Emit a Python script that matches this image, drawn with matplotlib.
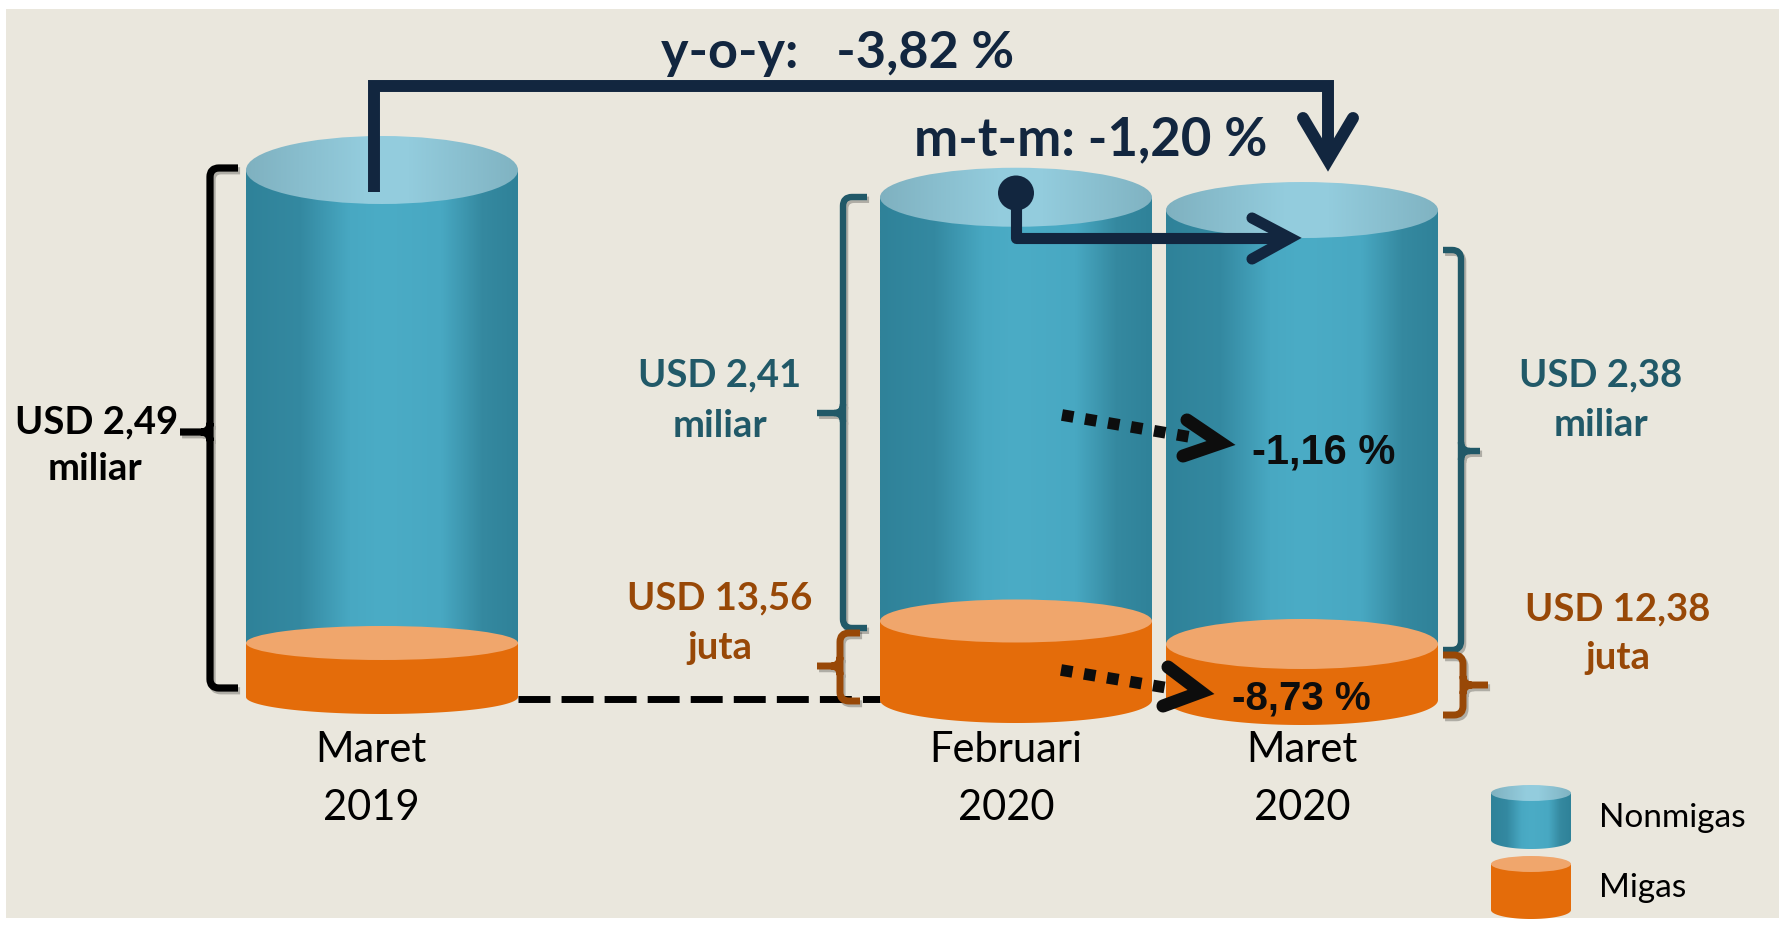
import numpy as np
import matplotlib
matplotlib.use('Agg')
import matplotlib.pyplot as plt
from matplotlib.patches import Ellipse, PathPatch, Rectangle
from matplotlib.path import Path
from matplotlib.colors import LinearSegmentedColormap
import matplotlib.patheffects as pe

# ---------------- data ----------------
periods = ['Maret', 'Februari', 'Maret']
years = ['2019', '2020', '2020']
total_2019_miliar = 2.49
nonmigas_miliar = [2.41, 2.38]        # Feb 2020, Mar 2020
migas_juta = [13.56, 12.38]           # Feb 2020, Mar 2020
yoy_pct = -3.82
mtm_pct = -1.20
nonmigas_mtm_pct = -1.16
migas_mtm_pct = -8.73
legend_labels = ['Nonmigas', 'Migas']

totals = [total_2019_miliar,
          nonmigas_miliar[0] + migas_juta[0] / 1000,
          nonmigas_miliar[1] + migas_juta[1] / 1000]


def fmt(v):
    return f"{v:.2f}".replace('.', ',')


# ---------------- style / layout ----------------
W, H = 1785, 927
BG = '#EAE7DD'
NAVY = '#12263F'
TEAL = '#215968'
BROWN = '#984807'
ORANGE = '#E46C0A'
ORANGE_TOP = '#F0A66C'
BLACK = '#0D0D0D'

# value -> pixel mapping for cylinder tops
REF_V, REF_PX, PX_PER_UNIT = 2.49, 170, 410

cyl_cx = [382, 1016, 1302]
RX = 136
top_ry = [34, 29.5, 28]
bottom_px = [697, 700, 700]
migas_band = [54, 79, 56]
mid_ry = [17, 21.5, 25]
bot_ry = [17, 23, 25]

side_cmap = LinearSegmentedColormap.from_list('side', [
    (0.0, '#2F8299'), (0.2, '#3489A1'), (0.38, '#48A8C2'), (0.5, '#4BACC6'),
    (0.72, '#48A8C2'), (0.87, '#3589A0'), (1.0, '#2F8299')])
top_cmap = LinearSegmentedColormap.from_list('top', [
    (0.0, '#7FB1C0'), (0.45, '#94CDDE'), (0.6, '#93CCDD'), (1.0, '#80B3C2')])

fig = plt.figure(figsize=(W / 100, H / 100), dpi=100)
fig.patch.set_facecolor('white')
ax = fig.add_axes([0, 0, 1, 1])
ax.set_xlim(0, W)
ax.set_ylim(H, 0)
ax.set_autoscale_on(False)
ax.axis('off')

ax.add_patch(Rectangle((6, 9), W - 12, H - 18, facecolor=BG, edgecolor='none', zorder=0))


def grad_fill(patch, x0, x1, y0, y1, cmap, z):
    patch.set_facecolor('none')
    patch.set_edgecolor('none')
    ax.add_patch(patch)
    g = np.linspace(0, 1, 256)[None, :]
    im = ax.imshow(g, cmap=cmap, extent=(x0, x1, y1, y0), aspect='auto',
                   interpolation='bilinear', zorder=z)
    im.set_clip_path(patch)


def half_ellipse_pts(cx, rx, yc, ry, n=80):
    t = np.linspace(0, np.pi, n)
    return np.column_stack([cx - rx * np.cos(t), yc + ry * np.sin(t)])


def side_patch(cx, rx, y_top, y_bot, ry_bot):
    pts = [(cx - rx, y_top)]
    pts += list(map(tuple, half_ellipse_pts(cx, rx, y_bot, ry_bot)))
    pts += [(cx + rx, y_top), (cx - rx, y_top)]
    return PathPatch(Path(pts, closed=True))


def blue_part(cx, rx, y_top, y_bot, ry_top, ry_bot, z):
    grad_fill(side_patch(cx, rx, y_top, y_bot, ry_bot), cx - rx, cx + rx,
              y_top - 1, y_bot + ry_bot + 1, side_cmap, z)
    grad_fill(Ellipse((cx, y_top), 2 * rx, 2 * ry_top), cx - rx, cx + rx,
              y_top - ry_top - 1, y_top + ry_top + 1, top_cmap, z + 0.3)


def orange_part(cx, rx, y_top, y_bot, ry_top, ry_bot, z):
    p = side_patch(cx, rx, y_top, y_bot, ry_bot)
    p.set_facecolor(ORANGE)
    p.set_edgecolor('none')
    p.set_zorder(z + 0.1)
    ax.add_patch(p)
    ax.add_patch(Ellipse((cx, y_top), 2 * rx, 2 * ry_top, facecolor=ORANGE_TOP,
                         edgecolor='none', zorder=z + 0.2))


for i in range(3):
    y_top = REF_PX + (REF_V - totals[i]) * PX_PER_UNIT
    y_bot = bottom_px[i]
    y_mid = y_bot - migas_band[i]
    z = 2 + i
    blue_part(cyl_cx[i], RX, y_top, y_mid, top_ry[i], mid_ry[i], z)
    orange_part(cyl_cx[i], RX, y_mid, y_bot, mid_ry[i], bot_ry[i], z)

# legend cylinders
blue_part(1531, 40, 793, 840, 8, 9, 2)
orange_part(1531, 40, 864, 910, 8, 9, 2)

# dashed comparison line
ax.plot([518, 880], [699, 699], color='black', lw=5, linestyle=(0, (4.6, 1.6)),
        dash_capstyle='butt', zorder=1.5)

# brackets
shadow = [pe.SimpleLineShadow(offset=(1.5, -2), shadow_color='black', alpha=0.25), pe.Normal()]


def bracket(xv, yt, yb, ym, hook_x, tick_x, color, lw, r=9):
    dh = np.sign(hook_x - xv)
    dt = np.sign(tick_x - xv)
    M, L, C = Path.MOVETO, Path.LINETO, Path.CURVE3
    verts = [(hook_x, yt), (xv + dh * r, yt), (xv, yt), (xv, yt + r),
             (xv, yb - r), (xv, yb), (xv + dh * r, yb), (hook_x, yb),
             (xv, ym - r), (xv, ym), (xv + dt * r, ym), (tick_x, ym),
             (xv, ym + r), (xv, ym), (xv + dt * r, ym)]
    codes = [M, L, C, C, L, C, C, L, M, C, C, L, M, C, C]
    pp = PathPatch(Path(verts, codes), fill=False, edgecolor=color, lw=lw,
                   capstyle='butt', joinstyle='round', zorder=6)
    pp.set_path_effects(shadow)
    ax.add_patch(pp)


bracket(210, 168, 688, 432, 238, 180, 'black', 5.2)
bracket(843, 197, 628, 413, 867, 817, TEAL, 4.6)
bracket(840, 633, 701, 666, 860, 817, BROWN, 5.0)
bracket(1461, 250, 650, 451, 1443, 1480, TEAL, 4.6)
bracket(1463, 655, 715, 685, 1443, 1488, BROWN, 5.0)

# y-o-y arrow
ax.plot([374, 374, 1328, 1328], [192, 86, 86, 160], color=NAVY, lw=8.6,
        solid_joinstyle='miter', solid_capstyle='butt', zorder=8)
ax.plot([1303, 1328, 1353], [118, 160, 118], color=NAVY, lw=8.6,
        solid_joinstyle='miter', solid_capstyle='round', zorder=8)

# m-t-m arrow
ax.add_patch(Ellipse((1016, 193), 36, 35, facecolor=NAVY, edgecolor='none', zorder=8))
ax.plot([1016, 1016, 1290], [193, 238, 238], color=NAVY, lw=8,
        solid_joinstyle='round', solid_capstyle='butt', zorder=8)
ax.plot([1252, 1290, 1252], [218, 238, 259], color=NAVY, lw=8,
        solid_joinstyle='miter', solid_capstyle='round', zorder=8)

# dotted arrows
ax.plot([1062, 1196], [415, 438], color=BLACK, lw=8.4, linestyle=(0, (1, 1)),
        dash_capstyle='butt', zorder=8)
ax.plot([1187, 1221, 1183], [420, 443, 456], color=BLACK, lw=9.4,
        solid_joinstyle='miter', solid_capstyle='round', zorder=8)
ax.plot([1061, 1168], [670, 688], color=BLACK, lw=8.4, linestyle=(0, (1, 1)),
        dash_capstyle='butt', zorder=8)
ax.plot([1168, 1201, 1163], [667, 692, 706], color=BLACK, lw=9.4,
        solid_joinstyle='miter', solid_capstyle='round', zorder=8)

# ---------------- texts ----------------
FB = dict(family=['Lato', 'DejaVu Sans'], fontweight='bold', ha='center', va='baseline', zorder=9)
FR = dict(family=['Lato', 'DejaVu Sans'], ha='center', va='baseline', zorder=9)
FA = dict(family=['Liberation Sans', 'DejaVu Sans'], fontweight='bold', va='baseline',
          ha='left', zorder=9, color=BLACK)

ax.text(838, 68, f'y-o-y:   {fmt(yoy_pct)} %', fontsize=37.5, color=NAVY, **FB)
ax.text(1091, 155, f'm-t-m: {fmt(mtm_pct)} %', fontsize=38, color=NAVY, **FB)

ax.text(97, 433, f'USD {fmt(total_2019_miliar)}', fontsize=27.5, color='black', **FB)
ax.text(95, 480, 'miliar', fontsize=27.5, color='black', **FB)

ax.text(720, 386, f'USD {fmt(nonmigas_miliar[0])}', fontsize=27.5, color=TEAL, **FB)
ax.text(720, 437, 'miliar', fontsize=27.5, color=TEAL, **FB)
ax.text(720, 609, f'USD {fmt(migas_juta[0])}', fontsize=27.5, color=BROWN, **FB)
ax.text(720, 659, 'juta', fontsize=27.5, color=BROWN, **FB)

ax.text(1601, 386, f'USD {fmt(nonmigas_miliar[1])}', fontsize=27.5, color=TEAL, **FB)
ax.text(1601, 436, 'miliar', fontsize=27.5, color=TEAL, **FB)
ax.text(1618, 620, f'USD {fmt(migas_juta[1])}', fontsize=27.5, color=BROWN, **FB)
ax.text(1618, 669, 'juta', fontsize=27.5, color=BROWN, **FB)

ax.text(1252, 463, f'{fmt(nonmigas_mtm_pct)} %', fontsize=30, **FA)
ax.text(1232, 710, f'{fmt(migas_mtm_pct)} %', fontsize=29, **FA)

label_x = [371, 1006, 1302]
for i in range(3):
    ax.text(label_x[i], 762, periods[i], fontsize=30, color='black', **FR)
    ax.text(label_x[i], 820, years[i], fontsize=30, color='black', **FR)

ax.text(1599, 827, legend_labels[0], fontsize=24, color='black',
        family=['Lato', 'DejaVu Sans'], ha='left', va='baseline', zorder=9)
ax.text(1599, 897, legend_labels[1], fontsize=24, color='black',
        family=['Lato', 'DejaVu Sans'], ha='left', va='baseline', zorder=9)

fig.savefig('out.png', dpi=100, facecolor='white')
